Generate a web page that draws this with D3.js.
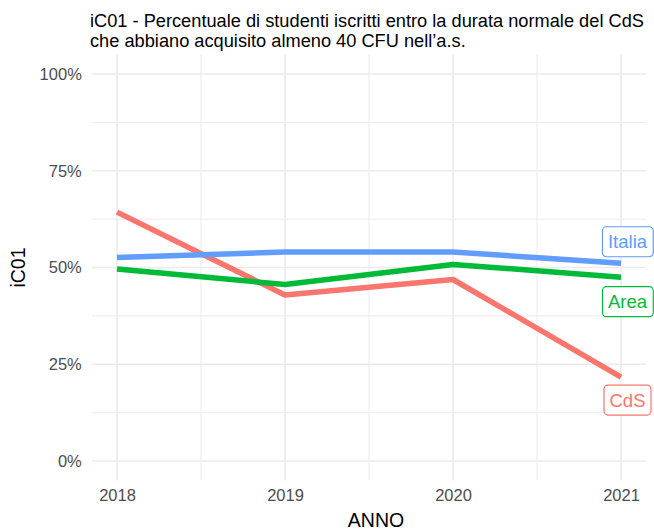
<!DOCTYPE html>
<html><head><meta charset="utf-8">
<script src="https://cdn.jsdelivr.net/npm/d3@7"></script>
<style>body{margin:0;background:#fff;} svg{display:block;font-family:"Liberation Sans",Arial,sans-serif;}</style>
</head><body>
<script>
const years = [2018, 2019, 2020, 2021];
const cds = [0.643, 0.429, 0.469, 0.217];
const area = [0.496, 0.456, 0.508, 0.475];
const italia = [0.526, 0.540, 0.540, 0.511];
const seriesNames = ["CdS", "Area", "Italia"];
const seriesColors = ["#F8766D", "#00BA38", "#619CFF"];
const yTicks = [0, 0.25, 0.5, 0.75, 1];
const yMinor = [0.125, 0.375, 0.625, 0.875];
const xMinor = [2018.5, 2019.5, 2020.5];
const titleLines = ["iC01 - Percentuale di studenti iscritti entro la durata normale del CdS", "che abbiano acquisito almeno 40 CFU nell\u2019a.s."];

const W = 654, H = 530;
const svg = d3.select("body").append("svg").attr("width", W).attr("height", H);
const x = d3.scaleLinear().domain([2017.85, 2021.15]).range([91.8, 646.2]);
const y = d3.scaleLinear().domain([-0.05, 1.05]).range([480.4, 54.6]);

const grid = svg.append("g");
yMinor.forEach(v => grid.append("line").attr("x1", x.range()[0]).attr("x2", x.range()[1]).attr("y1", y(v)).attr("y2", y(v)).attr("stroke", "#EBEBEB").attr("stroke-width", 1));
xMinor.forEach(v => grid.append("line").attr("x1", x(v)).attr("x2", x(v)).attr("y1", y.range()[0]).attr("y2", y.range()[1]).attr("stroke", "#EBEBEB").attr("stroke-width", 1));
yTicks.forEach(v => grid.append("line").attr("x1", x.range()[0]).attr("x2", x.range()[1]).attr("y1", y(v)).attr("y2", y(v)).attr("stroke", "#EBEBEB").attr("stroke-width", 1.6));
years.forEach(v => grid.append("line").attr("x1", x(v)).attr("x2", x(v)).attr("y1", y.range()[0]).attr("y2", y.range()[1]).attr("stroke", "#EBEBEB").attr("stroke-width", 1.6));

// axes
const yAxis = svg.append("g").attr("transform", `translate(${x.range()[0]},0)`)
  .call(d3.axisLeft(y).tickValues(yTicks).tickFormat(d3.format(".0%")).tickSize(0).tickPadding(10));
yAxis.select(".domain").remove();
yAxis.selectAll("text").attr("fill", "#4D4D4D").attr("font-size", 16.5).attr("font-family", "Liberation Sans, Arial, sans-serif");
const xAxis = svg.append("g").attr("transform", `translate(0,${y.range()[0]})`)
  .call(d3.axisBottom(x).tickValues(years).tickFormat(d3.format("d")).tickSize(0).tickPadding(9));
xAxis.select(".domain").remove();
xAxis.selectAll("text").attr("fill", "#4D4D4D").attr("font-size", 16.5).attr("font-family", "Liberation Sans, Arial, sans-serif");

const data = [cds, area, italia];
const line = d3.line().x((d, i) => x(years[i])).y(d => y(d));
data.forEach((vals, k) => {
  svg.append("path").attr("d", line(vals)).attr("fill", "none")
    .attr("stroke", seriesColors[k]).attr("stroke-width", 5.5).attr("stroke-linejoin", "round");
});

// repelled labels: offsets from the last point, in px
const labelDy = [23, 24.5, -21.5];
data.forEach((vals, k) => {
  const cx = x(years[3]) + 6.5;
  const cy = y(vals[3]) + labelDy[k];
  const g = svg.append("g");
  const t = g.append("text").attr("x", cx).attr("y", cy).attr("dy", "0.36em").attr("text-anchor", "middle")
    .attr("font-size", 18.5).attr("fill", seriesColors[k]).text(seriesNames[k]);
  const bb = t.node().getBBox();
  g.insert("rect", "text").attr("x", bb.x - 5.5).attr("y", cy - 15).attr("width", bb.width + 11).attr("height", 30)
    .attr("rx", 4).attr("fill", "#fff").attr("stroke", seriesColors[k]).attr("stroke-width", 1.2);
});

// titles: size chosen so line 1 spans the same width as in the reference
const titleTexts = titleLines.map((s, i) => svg.append("text").attr("x", 90).attr("y", 27 + i * 20)
  .attr("font-size", 17.5).attr("fill", "#000").text(s));
const w0 = titleTexts[0].node().getComputedTextLength();
const fs = Math.min(19, 17.5 * 554 / w0);
titleTexts.forEach(t => t.attr("font-size", fs));

svg.append("text").attr("x", (x.range()[0] + x.range()[1]) / 2 + 7).attr("y", 527).attr("text-anchor", "middle").attr("font-size", 19.5).attr("fill", "#000").text("ANNO");
svg.append("text").attr("transform", `translate(25,${(y.range()[0] + y.range()[1]) / 2}) rotate(-90)`).attr("text-anchor", "middle").attr("font-size", 19.5).attr("fill", "#000").text("iC01");
</script>
</body></html>
